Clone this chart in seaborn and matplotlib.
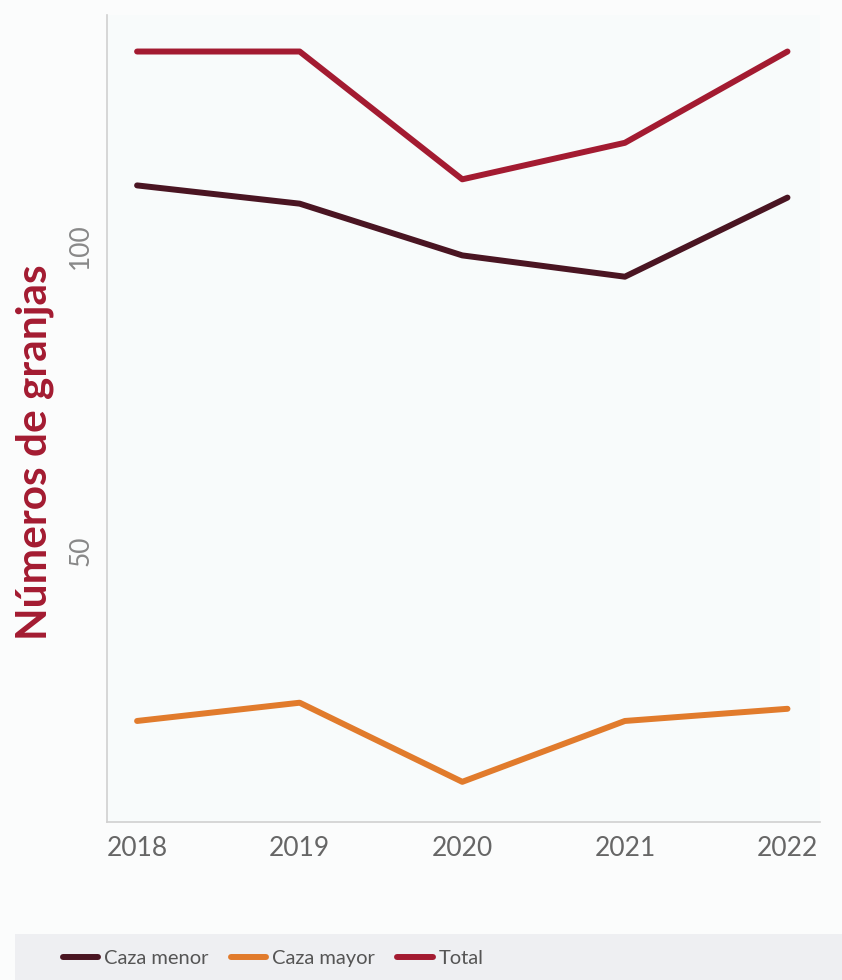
import matplotlib
matplotlib.use("Agg")
import matplotlib.pyplot as plt
import seaborn as sns
import pandas as pd
from matplotlib.patches import Rectangle
from matplotlib.lines import Line2D

years = [2018, 2019, 2020, 2021, 2022]
caza_menor = [110, 107, 98.5, 95, 108]
caza_mayor = [22, 25, 12, 22, 24]
total = [132, 132, 111, 117, 132]
series_names = ["Caza menor", "Caza mayor", "Total"]
colors = ["#4a1522", "#e17b2c", "#a31b31"]
y_ticks = [50, 100]
y_label = "Números de granjas"

df = pd.DataFrame({
    "Año": years * 3,
    "Valor": caza_menor + caza_mayor + total,
    "Serie": [series_names[0]] * 5 + [series_names[1]] * 5 + [series_names[2]] * 5,
})

sns.set_theme(style="white")
plt.rcParams["font.family"] = ["Lato", "DejaVu Sans"]

fig = plt.figure(figsize=(8.42, 9.8), dpi=100, facecolor="#fbfcfc")
ax = fig.add_axes([107 / 842, 1 - 822 / 980, (820 - 107) / 842, (822 - 15) / 980])
ax.set_facecolor("#f8fbfb")

sns.lineplot(data=df, x="Año", y="Valor", hue="Serie", hue_order=series_names,
             palette=dict(zip(series_names, colors)), linewidth=4.3, ax=ax,
             legend=False)

ax.set_xlim(2017.815, 2022.2)
ax.set_ylim(5.4, 138)
ax.set_xticks(years)
ax.set_xticklabels([str(y) for y in years], fontsize=19, color="#666666")
ax.set_yticks(y_ticks)
ax.set_yticklabels([str(v) for v in y_ticks], fontsize=19, color="#888888",
                   rotation=90, va="center")
ax.tick_params(axis="x", length=4, color="#cccccc", pad=6)
ax.tick_params(axis="y", length=0, pad=10)
for s in ["top", "right"]:
    ax.spines[s].set_visible(False)
for s in ["left", "bottom"]:
    ax.spines[s].set_color("#d0d0d0")
    ax.spines[s].set_linewidth(1.2)
ax.set_xlabel("")
ax.set_ylabel(y_label, fontsize=30.5, fontweight="bold", color="#a31b31")
ax.yaxis.set_label_coords(-0.075, 0.458)

# legend band
fig.patches.append(Rectangle((15 / 842, 0), 1 - 15 / 842, 46 / 980,
                             transform=fig.transFigure, facecolor="#eeeff2",
                             edgecolor="none", zorder=0))
handles = [Line2D([0], [0], color=c, lw=4.3) for c in colors]
leg = fig.legend(handles, series_names, loc="center left",
                 bbox_to_anchor=(45 / 842, 22 / 980), ncol=3, frameon=False,
                 fontsize=14.5, handlelength=1.75, handletextpad=0.3,
                 columnspacing=1.1)
for t in leg.get_texts():
    t.set_color("#555555")

fig.savefig("out.png", dpi=100, facecolor=fig.get_facecolor())
